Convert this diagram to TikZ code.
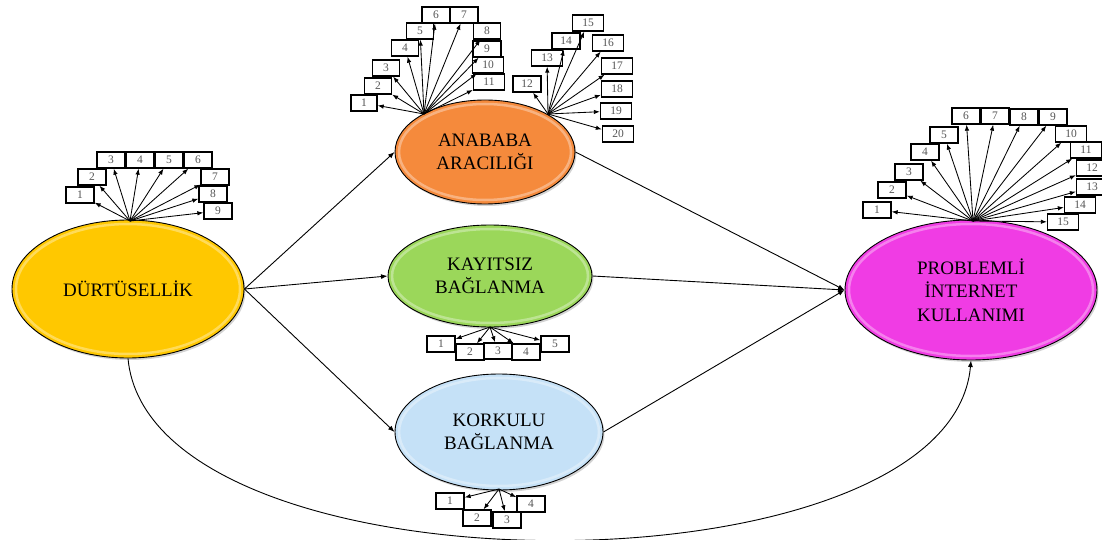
\documentclass[tikz,border=0pt]{standalone}
\usepackage{fontspec}
\setmainfont{Liberation Serif}
\usetikzlibrary{shapes.geometric,arrows.meta,shadows}
\definecolor{cdurt}{RGB}{255,200,0}
\definecolor{caba}{RGB}{245,138,60}
\definecolor{ckay}{RGB}{155,215,90}
\definecolor{ckor}{RGB}{197,225,247}
\definecolor{cpik}{RGB}{240,60,228}
\definecolor{cnum}{RGB}{85,85,85}
\tikzset{
  latent/.style={ellipse, draw=black, line width=0.9pt, inner sep=0pt, align=center,
    font=\fontsize{19}{23.5}\selectfont,
    drop shadow={opacity=0.35, shadow xshift=1.5pt, shadow yshift=-2pt}},
  bevel/.style={white, opacity=0.35, line width=2.5pt},
  itembox/.style={draw=black, line width=1.3pt, fill=white, minimum width=28pt,
    minimum height=16pt, inner sep=0pt, font=\fontsize{11.5}{11.5}\selectfont, text=cnum},
  widebox/.style={itembox, minimum width=31pt},
  itemarrow/.style={-{Latex[length=6pt,width=4.5pt]}, line width=0.85pt},
  conn/.style={-{Latex[length=6.5pt,width=5pt]}, line width=0.9pt}
}
\begin{document}
\begin{tikzpicture}[x=1pt,y=-1pt]
\useasboundingbox (0,0) rectangle (1102,540);

% latent variables
\node[latent, fill=cdurt, minimum width=232pt, minimum height=138pt] (d) at (128,289) {DÜRTÜSELLİK};
\node[latent, fill=caba, minimum width=180pt, minimum height=104pt] (a) at (485,152) {ANABABA\\ARACILIĞI};
\node[latent, fill=ckay, minimum width=204pt, minimum height=102pt] (k) at (490,276) {KAYITSIZ\\BAĞLANMA};
\node[latent, fill=ckor, minimum width=208pt, minimum height=116pt] (r) at (499,432) {KORKULU\\BAĞLANMA};
\node[latent, fill=cpik, minimum width=252pt, minimum height=140pt] (p) at (971,290) {PROBLEMLİ\\İNTERNET\\KULLANIMI};

% bevel highlights
\draw[bevel] (d.center) ellipse [x radius=112, y radius=65];
\draw[bevel] (a.center) ellipse [x radius=86, y radius=48];
\draw[bevel] (k.center) ellipse [x radius=98, y radius=47];
\draw[bevel] (r.center) ellipse [x radius=100, y radius=54];
\draw[bevel] (p.center) ellipse [x radius=122, y radius=66];

% origins of item arrows
\coordinate (od) at (130,221);
\coordinate (oa1) at (424,114);
\coordinate (oa2) at (548,114);
\coordinate (ok) at (490,327);
\coordinate (or) at (499,489);
\coordinate (op) at (973,221);

% DÜRTÜSELLİK items
\node[itembox] (d1) at (80,195) {1};
\node[itembox] (d2) at (92,177) {2};
\node[itembox] (d3) at (111,160) {3};
\node[itembox] (d4) at (140,160) {4};
\node[itembox] (d5) at (169,160) {5};
\node[itembox] (d6) at (198,160) {6};
\node[itembox] (d7) at (215,177) {7};
\node[itembox] (d8) at (213,194) {8};
\node[itembox] (d9) at (218,211) {9};
\foreach \i in {1,...,9} {\draw[itemarrow] (od) -- (d\i);}

% ANABABA items
\node[itembox, minimum width=26pt] (a1) at (364,103) {1};
\node[itembox, minimum width=27pt] (a2) at (378,86) {2};
\node[itembox, minimum width=27pt] (a3) at (386,68) {3};
\node[itembox, minimum width=27pt] (a4) at (405,48) {4};
\node[itembox, minimum width=27pt] (a5) at (420,31) {5};
\node[itembox] (a6) at (436,15) {6};
\node[itembox] (a7) at (464,15) {7};
\node[itembox, minimum width=27pt] (a8) at (487,31) {8};
\node[itembox] (a9) at (487,49) {9};
\node[widebox] (a10) at (488,65) {10};
\node[widebox] (a11) at (489,82) {11};
\node[itembox] (a12) at (527,84) {12};
\node[widebox] (a13) at (547,58) {13};
\node[itembox] (a14) at (566,41) {14};
\node[widebox] (a15) at (588,23) {15};
\node[widebox] (a16) at (608,43) {16};
\node[widebox] (a17) at (617,66) {17};
\node[widebox] (a18) at (617,89) {18};
\node[widebox] (a19) at (616,111) {19};
\node[widebox] (a20) at (618,134) {20};
\foreach \i in {1,...,11} {\draw[itemarrow] (oa1) -- (a\i);}
\foreach \i in {12,...,20} {\draw[itemarrow] (oa2) -- (a\i);}

% KAYITSIZ items
\node[itembox] (k1) at (441,344) {1};
\node[itembox] (k2) at (470,352) {2};
\node[itembox] (k3) at (498,351) {3};
\node[itembox] (k4) at (526,352) {4};
\node[itembox] (k5) at (555,344) {5};
\foreach \i in {1,...,5} {\draw[itemarrow] (ok) -- (k\i);}

% KORKULU items
\node[itembox] (r1) at (450,501) {1};
\node[itembox] (r2) at (477,518) {2};
\node[itembox] (r3) at (507,520) {3};
\node[itembox] (r4) at (531,504) {4};
\foreach \i in {1,...,4} {\draw[itemarrow] (or) -- (r\i);}

% PROBLEMLİ items
\node[itembox] (p1) at (877,210) {1};
\node[itembox] (p2) at (892,190) {2};
\node[itembox] (p3) at (909,172) {3};
\node[itembox] (p4) at (925,152) {4};
\node[itembox] (p5) at (944,135) {5};
\node[itembox] (p6) at (966,116) {6};
\node[itembox] (p7) at (995,116) {7};
\node[itembox] (p8) at (1024,117) {8};
\node[itembox] (p9) at (1053,117) {9};
\node[widebox] (p10) at (1071,134) {10};
\node[widebox] (p11) at (1086,150) {11};
\node[widebox] (p12) at (1092,168) {12};
\node[widebox] (p13) at (1092,187) {13};
\node[widebox] (p14) at (1080,205) {14};
\node[widebox] (p15) at (1063,222) {15};
\foreach \i in {1,...,15} {\draw[itemarrow] (op) -- (p\i);}

% structural paths
\draw[conn] (d.east) -- (a.west);
\draw[conn] (d.east) -- (k.west);
\draw[conn] (d.east) -- (r.west);
\draw[conn] (a.east) -- (p.west);
\draw[conn] (k.east) -- (p.west);
\draw[conn] (r.east) -- (p.west);
\draw[conn] (d.south) .. controls (150,600) and (950,600) .. (p.south);
\end{tikzpicture}
\end{document}
